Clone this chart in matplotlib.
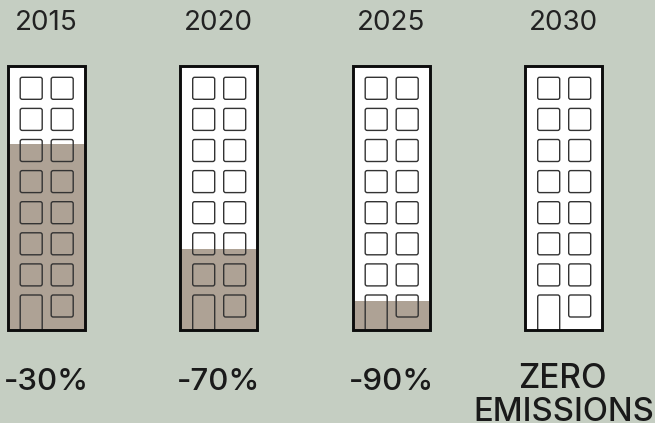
import matplotlib
matplotlib.use("Agg")
import matplotlib.pyplot as plt
from matplotlib.patches import FancyBboxPatch, Rectangle, PathPatch
from matplotlib.path import Path

years = ["2015", "2020", "2025", "2030"]
remaining_pct = [70.5, 30.6, 11, 0]
labels = ["-30%", "-70%", "-90%", "ZERO\nEMISSIONS"]

BG = "#C5CEC2"
FILL = "#AEA295"
INK = "#0d0d0d"
WIN = "#333333"

fig = plt.figure(figsize=(6.55, 4.23), dpi=100, facecolor=BG)
ax = fig.add_axes([0, 0, 1, 1])
ax.set_xlim(0, 655)
ax.set_ylim(423, 0)
ax.axis("off")

lefts = [7.5, 180, 352.5, 525]
W, TOP, BOT = 77, 66, 330
H = BOT - TOP
FONT = "Inter"

for left, yr, rem, lab in zip(lefts, years, remaining_pct, labels):
    cx = left + W / 2
    ax.add_patch(Rectangle((left, TOP), W, H, fc="white", ec="none", zorder=1))
    fh = H * rem / 100
    ax.bar(left, fh, width=W, bottom=BOT - fh, align="edge", color=FILL, zorder=2)
    for r in range(8):
        y = 77.3 + 31.1 * r
        for c, dx in enumerate((12.7, 43.7)):
            x = left + dx
            if r == 7 and c == 0:
                verts = [(x, BOT), (x, y + 2), (x, y), (x + 2, y), (x + 20, y), (x + 22, y), (x + 22, y + 2), (x + 22, BOT)]
                codes = [Path.MOVETO, Path.LINETO, Path.CURVE3, Path.CURVE3, Path.LINETO, Path.CURVE3, Path.CURVE3, Path.LINETO]
                ax.add_patch(PathPatch(Path(verts, codes), fc="none", ec=WIN, lw=1.0, zorder=3))
            else:
                ax.add_patch(FancyBboxPatch((x + 1.5, y + 1.5), 19, 19,
                                            boxstyle="round,pad=1.5,rounding_size=2",
                                            fc="none", ec=WIN, lw=1.0, zorder=3))
    ax.add_patch(Rectangle((left, TOP), W, H, fc="none", ec=INK, lw=2.1, zorder=4))
    ax.text(cx, 30, yr, ha="center", va="baseline", fontsize=20, color="#222222", family=FONT)
    if "\n" in lab:
        a, b = lab.split("\n")
        ax.text(cx - 1.5, 388.5, a, ha="center", va="baseline", fontsize=24, color="#1a1a1a", family=FONT, fontweight="medium")
        ax.text(cx + 0.5, 421, b, ha="center", va="baseline", fontsize=23.6, color="#1a1a1a", family=FONT, fontweight="medium")
    else:
        ax.text(cx + 0.5, 389.5, lab, ha="center", va="baseline", fontsize=22.5, color="#1a1a1a", family=FONT, fontweight="medium")

fig.savefig("out.png", dpi=100, facecolor=BG)
